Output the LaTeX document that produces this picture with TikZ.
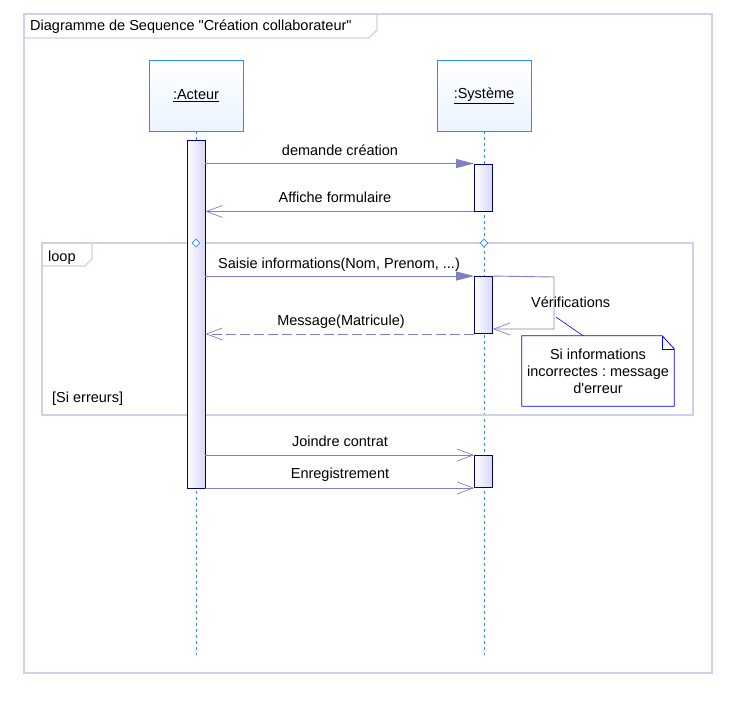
\documentclass[tikz,border=0pt]{standalone}
\usepackage{fontspec}
\setmainfont{Liberation Sans}[Ligatures=TeXOff]
\usetikzlibrary{arrows.meta,shapes.geometric}
\frenchspacing
\definecolor{framec}{RGB}{208,208,232}
\definecolor{lifec}{RGB}{30,144,255}
\definecolor{headfill}{RGB}{234,244,255}
\definecolor{actfill}{RGB}{214,214,248}
\definecolor{actdraw}{RGB}{0,0,128}
\definecolor{msgc}{RGB}{128,128,192}
\definecolor{notec}{RGB}{0,0,255}
\tikzset{
  every node/.style={font=\fontsize{14.5}{17}\selectfont, inner sep=0pt},
  framebox/.style={draw=framec, line width=1.2pt},
  headbox/.style={draw=lifec, line width=0.9pt, top color=white, bottom color=headfill, minimum width=94pt, minimum height=71pt},
  lifeline/.style={draw=lifec, line width=0.9pt, dash pattern=on 3pt off 3pt},
  actbox/.style={draw=actdraw, line width=0.9pt, shading=axis, shading angle=135, left color=white, right color=actfill, minimum width=18pt},
  msg/.style={draw=msgc, line width=0.9pt},
  sync/.style={msg, -{Triangle[length=18pt,width=9pt,fill=msgc]}},
  open/.style={msg, -{Straight Barb[length=16pt,width=12pt,line width=0.7pt]}},
  reply/.style={open, dash pattern=on 10pt off 4pt},
  notebox/.style={draw=notec, line width=0.8pt},
  lbl/.style={anchor=base},
  marker/.style={draw=lifec, diamond, minimum width=8pt, minimum height=8pt, line width=0.6pt, fill=white}
}
\begin{document}
\begin{tikzpicture}[x=1pt,y=-1pt]
\useasboundingbox (0,0) rectangle (738,701);
% outer frame
\draw[framebox] (24,14) rectangle (712,673);
\draw[framebox] (377,14) -- (377,30) -- (369,38) -- (24,38);
\node[anchor=base west] (title) at (30,31) {Diagramme de Sequence "Création collaborateur"};
% heads
\node[headbox] (acteur) at (196,95.5) {\underline{:Acteur}};
\node[headbox] (systeme) at (484,95.5) {\underline{:Système}};
\coordinate (aend) at (196,655);
\coordinate (send) at (484,655);
\draw[lifeline] (acteur.south) -- (aend);
\draw[lifeline] (systeme.south) -- (send);
% loop frame
\draw[framebox] (42,243) rectangle (693,415);
\draw[framebox] (92,243) -- (92,259) -- (85,266) -- (42,266);
\node[anchor=base west] (loop) at (48,261) {loop};
\node[anchor=base west] (guard) at (52,402) {[Si erreurs]};
% activations
\node[actbox, minimum height=348pt] (act) at (196,314) {};
\node[actbox, minimum height=47pt] (s1) at (483.5,187.5) {};
\node[actbox, minimum height=57pt] (s2) at (483.5,305) {};
\node[actbox, minimum height=32pt] (s3) at (483.5,471.5) {};
\node[marker] (d1) at (196,243) {};
\node[marker] (d2) at (484,243) {};
% messages
\draw[sync] (act.east |- s1.north) -- (s1.north west);
\node[lbl] (m1) at (340,155) {demande création};
\draw[open] (s1.south west) -- (act.east |- s1.south);
\node[lbl] (m2) at (335,202) {Affiche formulaire};
\draw[sync] (act.east |- s2.north) -- (s2.north west);
\node[lbl] (m3) at (339,268) {Saisie informations(Nom, Prenom, ...)};
\coordinate (selfa) at (554,277);
\coordinate (selfb) at (554,329);
\draw[open] (s2.north east) -- (selfa) -- (selfb) -- (s2.east |- selfb);
\node[anchor=base west] (m4) at (531,307) {Vérifications};
\draw[reply] (s2.south west) -- (act.east |- s2.south);
\node[lbl] (m5) at (341,325) {Message(Matricule)};
\draw[open] (act.east |- s3.north) -- (s3.north west);
\node[lbl] (m6) at (340,446) {Joindre contrat};
\draw[open] (act.east |- s3.south) -- (s3.south west);
\node[lbl] (m7) at (340,478) {Enregistrement};
% note
\node[minimum width=152pt, minimum height=70pt, align=center, font=\fontsize{14.5}{17}\selectfont] (note) at (598,371) {Si informations\\incorrectes : message\\d'erreur};
\draw[notebox] (note.north west) -- ([xshift=-12pt]note.north east) -- ([yshift=-13pt]note.north east) -- (note.south east) -- (note.south west) -- cycle;
\draw[notebox, line width=0.6pt] ([xshift=-12pt]note.north east) -- ([xshift=-12pt,yshift=-13pt]note.north east) -- ([yshift=-13pt]note.north east);
\coordinate (ncorner) at (556,317);
\draw[notebox, line width=0.6pt] ([xshift=-15pt]note.north) -- (ncorner);
\end{tikzpicture}
\end{document}
